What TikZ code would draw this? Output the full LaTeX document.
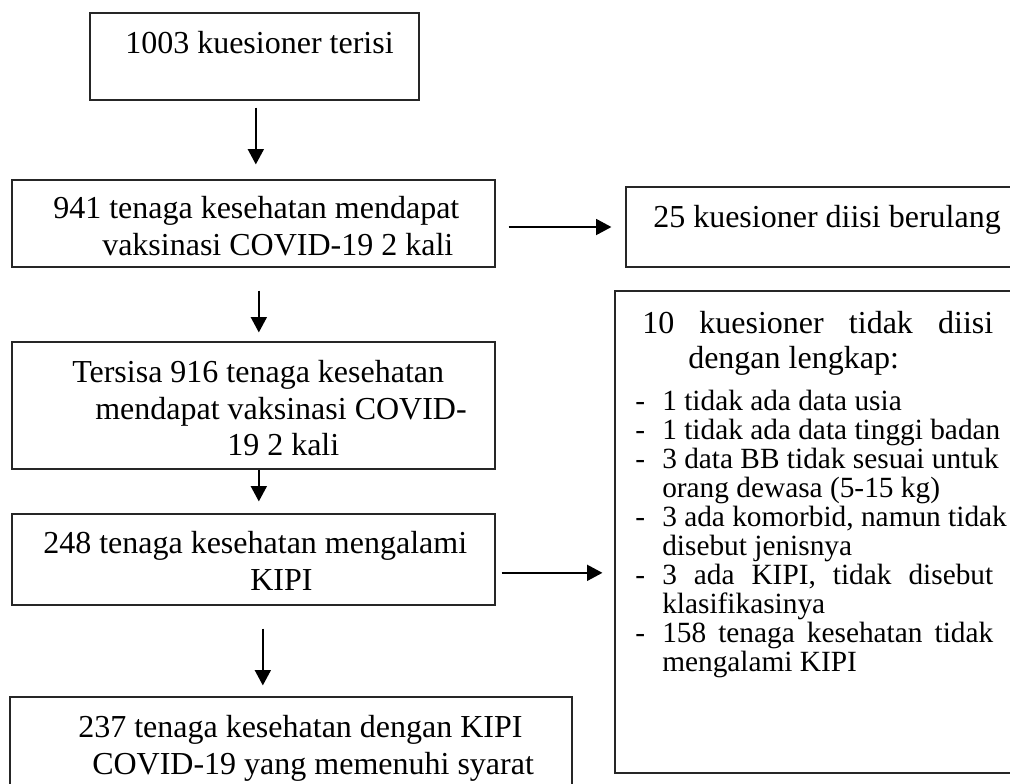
\documentclass[tikz,border=0pt]{standalone}
\usepackage{fontspec}
\setmainfont{Liberation Serif}
\usetikzlibrary{arrows.meta,fit}
\tikzset{
  box/.style={draw=black!85, line width=0.9pt, inner sep=0pt},
  arr/.style={line width=1.3pt, -{Triangle[length=11.5pt,width=12pt]}},
  txt/.style={anchor=base west, inner sep=0pt, font=\fontsize{24}{28}\selectfont},
  lst/.style={anchor=base west, inner sep=0pt, font=\fontsize{22}{26}\selectfont},
}
\begin{document}
\begin{tikzpicture}[x=0.75pt,y=-0.75pt]
\useasboundingbox (0,0) rectangle (1010,783);
\clip (0,0) rectangle (1010,783);

% boxes
\node[box, fit={(90,13) (419,100)}] (b1) {};
\node[box, fit={(12,180) (495,267)}] (b2) {};
\node[box, fit={(12,342) (495,469)}] (b3) {};
\node[box, fit={(12,514) (495,605)}] (b4) {};
\node[box, fit={(10,697) (572,800)}] (b5) {};
\node[box, fit={(626,187) (1020,267)}] (r1) {};
\node[box, fit={(615,291) (1020,773)}] (r2) {};

% texts
\node[txt] (t1) at (125,53) {1003 kuesioner terisi};
\node[txt] (t2a) at (53,218) {941 tenaga kesehatan mendapat};
\node[txt] (t2b) at (102,255) {vaksinasi COVID-19 2 kali};
\node[txt] (t3a) at (72,382) {Tersisa 916 tenaga kesehatan};
\node[txt] (t3b) at (95,419) {mendapat vaksinasi COVID-};
\node[txt] (t3c) at (227,455) {19 2 kali};
\node[txt] (t4a) at (43,553) {248 tenaga kesehatan mengalami};
\node[txt] (t4b) at (250,590) {KIPI};
\node[txt] (t5a) at (78,737) {237 tenaga kesehatan dengan KIPI};
\node[txt] (t5b) at (92,774) {COVID-19 yang memenuhi syarat};
\node[txt] (tr1) at (653,227) {25 kuesioner diisi berulang};
\node[txt] (tr2a) at (642,333) {\makebox[263.25pt][s]{10 kuesioner tidak diisi}};
\node[txt] (tr2b) at (688,368) {dengan lengkap:};

% list
\foreach \yy/\nm in {410/d1,439/d2,468/d3,526/d4,584/d5,642/d6}
  \node[lst] (\nm) at (635,\yy) {-};
\node[lst] (l1) at (662,410) {1 tidak ada data usia};
\node[lst] (l2) at (662,439) {1 tidak ada data tinggi badan};
\node[lst] (l3) at (662,468) {3 data BB tidak sesuai untuk};
\node[lst] (l3b) at (662,497) {orang dewasa (5-15 kg)};
\node[lst] (l4) at (662,526) {3 ada komorbid, namun tidak};
\node[lst] (l4b) at (662,555) {disebut jenisnya};
\node[lst] (l5) at (662,584) {\makebox[248.25pt][s]{3 ada KIPI, tidak disebut}};
\node[lst] (l5b) at (662,613) {klasifikasinya};
\node[lst] (l6) at (662,642) {\makebox[248.25pt][s]{158 tenaga kesehatan tidak}};
\node[lst] (l6b) at (662,671) {mengalami KIPI};

% arrows
\draw[arr, shorten <=5.25pt, shorten >=11.25pt] ([xshift=1pt]b1.south) -- ([xshift=1pt]b1.south |- b2.north);
\draw[arr, shorten <=17.25pt, shorten >=6.75pt] ([xshift=4pt]b2.south) -- ([xshift=4pt]b2.south |- b3.north);
\draw[arr, shorten >=9pt] ([xshift=4pt]b3.south) -- ([xshift=4pt]b3.south |- b4.north);
\draw[arr, shorten <=17.25pt, shorten >=8.25pt] ([xshift=7pt]b4.south) -- ([xshift=7pt]b4.south |- b5.north);
\draw[arr, shorten <=9.75pt, shorten >=10.5pt] (b2.east |- r1.west) -- (r1.west);
\draw[arr, shorten <=4.5pt, shorten >=9pt] ([yshift=-10pt]b4.east) -- ([yshift=-10pt]b4.east -| r2.west);
\end{tikzpicture}
\end{document}
